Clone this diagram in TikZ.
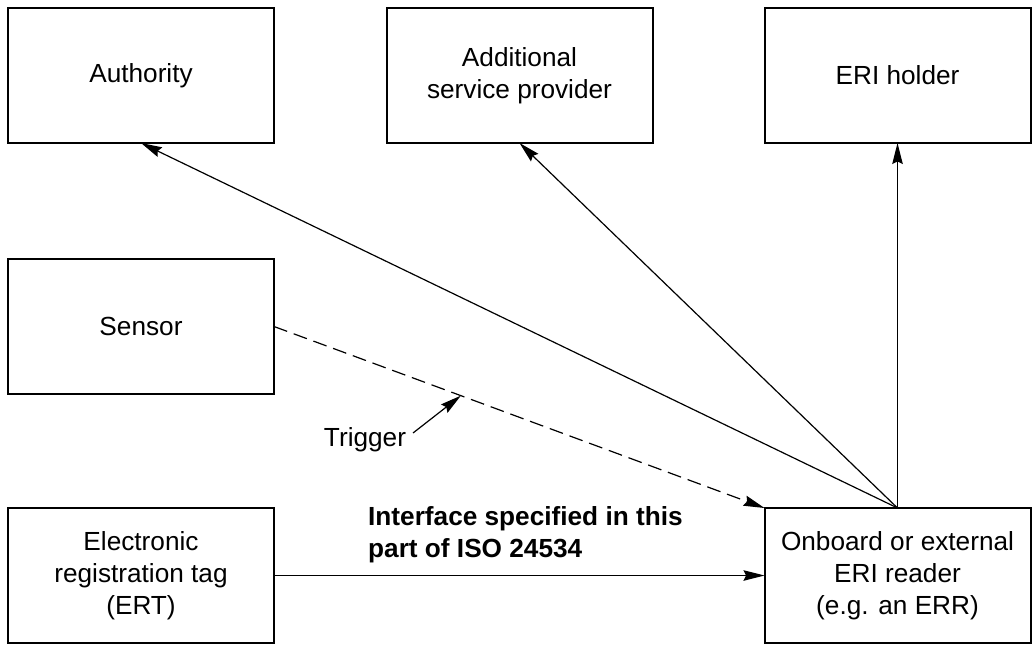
\documentclass[tikz,border=0pt]{standalone}
\usepackage{fontspec}
\setmainfont{Liberation Sans}
\usetikzlibrary{arrows.meta}
\begin{document}
\begin{tikzpicture}[x=1pt,y=-1pt,
  box/.style={draw,line width=2pt,minimum width=266pt,minimum height=135pt,
    inner sep=0pt,outer sep=0pt,align=center,
    font=\fontsize{26.2}{32}\selectfont},
  link/.style={line width=1.2pt,-{Stealth[length=21pt,width=10.5pt,inset=2.5pt]}},
  lbl/.style={font=\fontsize{26.2}{32}\selectfont,inner sep=0pt}]
\useasboundingbox (0,0) rectangle (1032,650);
% top row
\node[box] (auth) at (141,75.5) {Authority};
\node[box] (asp) at (519.5,75.5) {Additional\\service provider};
\node[box] (holder) at (897.5,75.5) {ERI holder};
% middle and bottom rows
\node[box] (sensor) at (141,326.5) {Sensor};
\node[box] (ert) at (141,575.5) {Electronic\\registration tag\\(ERT)};
\node[box] (reader) at (897.5,575.5) {Onboard or external\\ERI reader\\(e.g. an ERR)};
% reader outputs
\draw[link] (reader.north) -- (auth.south);
\draw[link] (reader.north) -- (asp.south);
\draw[link] (reader.north) -- (holder.south);
% trigger from the sensor
\draw[link,dash pattern=on 14pt off 7pt] (sensor.east) -- coordinate[pos=0.381] (trigpt) (reader.north west);
\node[lbl] (trig) at (365,440) {Trigger};
\draw[link] (413,433) -- (trigpt);
% tag to reader interface
\draw[link] (ert.east) -- (reader.west);
\node[lbl,font=\fontsize{26.2}{32}\selectfont\bfseries,align=left,anchor=west] (iface) at (368,535)
  {Interface specified in this\\part of ISO 24534};
\end{tikzpicture}
\end{document}
